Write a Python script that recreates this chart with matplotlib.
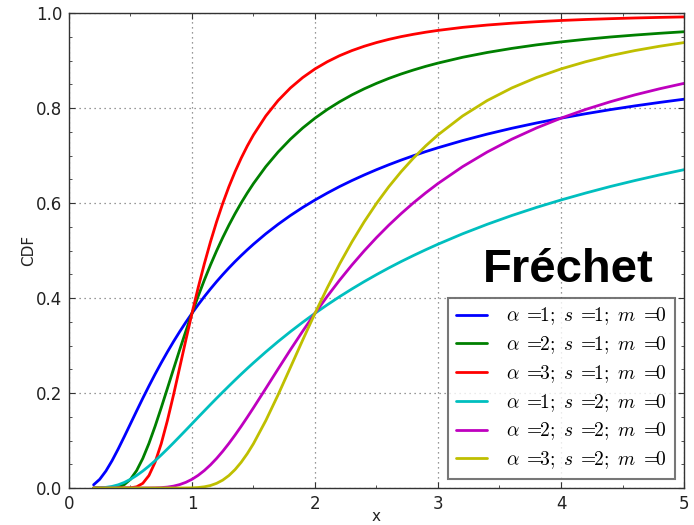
import matplotlib
matplotlib.use("Agg")
import matplotlib.pyplot as plt
from matplotlib.ticker import MultipleLocator

# Sample positions along x
x = [0.20, 0.25, 0.30, 0.35, 0.40, 0.45, 0.50, 0.55, 0.60,
     0.65, 0.70, 0.75, 0.80, 0.85, 0.90, 0.95, 1.00, 1.05,
     1.10, 1.15, 1.20, 1.25, 1.30, 1.35, 1.40, 1.45, 1.50,
     1.6, 1.7, 1.8, 1.9, 2.0,
     2.1, 2.2, 2.3, 2.4, 2.5,
     2.6, 2.7, 2.8, 2.9, 3.0,
     3.2, 3.4, 3.6, 3.8, 4.0,
     4.2, 4.4, 4.6, 4.8, 5.0]

# CDF values for each parameter set
cdf_a1_s1 = [0.0067, 0.0183, 0.0357, 0.0574, 0.0821, 0.1084, 0.1353, 0.1623, 0.1889,
             0.2147, 0.2397, 0.2636, 0.2865, 0.3084, 0.3292, 0.3490, 0.3679, 0.3858,
             0.4029, 0.4191, 0.4346, 0.4493, 0.4634, 0.4768, 0.4895, 0.5017, 0.5134,
             0.5353, 0.5553, 0.5738, 0.5908, 0.6065,
             0.6211, 0.6348, 0.6474, 0.6592, 0.6703,
             0.6807, 0.6905, 0.6997, 0.7084, 0.7165,
             0.7316, 0.7452, 0.7575, 0.7686, 0.7788,
             0.7881, 0.7967, 0.8046, 0.8119, 0.8187]
cdf_a2_s1 = [0.0000, 0.0000, 0.0000, 0.0003, 0.0019, 0.0072, 0.0183, 0.0367, 0.0622,
             0.0938, 0.1299, 0.1690, 0.2096, 0.2506, 0.2910, 0.3302, 0.3679, 0.4037,
             0.4376, 0.4695, 0.4994, 0.5273, 0.5534, 0.5777, 0.6004, 0.6215, 0.6412,
             0.6767, 0.7075, 0.7345, 0.7581, 0.7788,
             0.7971, 0.8133, 0.8278, 0.8406, 0.8521,
             0.8625, 0.8718, 0.8802, 0.8879, 0.8948,
             0.9070, 0.9171, 0.9257, 0.9331, 0.9394,
             0.9449, 0.9497, 0.9538, 0.9575, 0.9608]
cdf_a3_s1 = [0.0000, 0.0000, 0.0000, 0.0000, 0.0000, 0.0000, 0.0003, 0.0025, 0.0098,
             0.0262, 0.0542, 0.0934, 0.1419, 0.1962, 0.2537, 0.3115, 0.3679, 0.4216,
             0.4718, 0.5181, 0.5606, 0.5993, 0.6344, 0.6660, 0.6946, 0.7204, 0.7436,
             0.7834, 0.8159, 0.8424, 0.8643, 0.8825,
             0.8976, 0.9104, 0.9211, 0.9302, 0.9380,
             0.9447, 0.9505, 0.9554, 0.9598, 0.9636,
             0.9700, 0.9749, 0.9788, 0.9819, 0.9845,
             0.9866, 0.9883, 0.9898, 0.9910, 0.9920]
cdf_a1_s2 = [0.0000, 0.0003, 0.0013, 0.0033, 0.0067, 0.0117, 0.0183, 0.0264, 0.0357,
             0.0461, 0.0574, 0.0695, 0.0821, 0.0951, 0.1084, 0.1218, 0.1353, 0.1489,
             0.1623, 0.1757, 0.1889, 0.2019, 0.2147, 0.2273, 0.2397, 0.2518, 0.2636,
             0.2865, 0.3084, 0.3292, 0.3490, 0.3679,
             0.3858, 0.4029, 0.4191, 0.4346, 0.4493,
             0.4634, 0.4768, 0.4895, 0.5017, 0.5134,
             0.5353, 0.5553, 0.5738, 0.5908, 0.6065,
             0.6211, 0.6348, 0.6474, 0.6592, 0.6703]
cdf_a2_s2 = [0.0000, 0.0000, 0.0000, 0.0000, 0.0000, 0.0000, 0.0000, 0.0000, 0.0000,
             0.0001, 0.0003, 0.0008, 0.0019, 0.0039, 0.0072, 0.0119, 0.0183, 0.0266,
             0.0367, 0.0486, 0.0622, 0.0773, 0.0938, 0.1114, 0.1299, 0.1492, 0.1690,
             0.2096, 0.2506, 0.2910, 0.3302, 0.3679,
             0.4037, 0.4376, 0.4695, 0.4994, 0.5273,
             0.5534, 0.5777, 0.6004, 0.6215, 0.6412,
             0.6767, 0.7075, 0.7345, 0.7581, 0.7788,
             0.7971, 0.8133, 0.8278, 0.8406, 0.8521]
cdf_a3_s2 = [0.0000, 0.0000, 0.0000, 0.0000, 0.0000, 0.0000, 0.0000, 0.0000, 0.0000,
             0.0000, 0.0000, 0.0000, 0.0000, 0.0000, 0.0000, 0.0001, 0.0003, 0.0010,
             0.0025, 0.0052, 0.0098, 0.0166, 0.0262, 0.0387, 0.0542, 0.0725, 0.0934,
             0.1419, 0.1962, 0.2537, 0.3115, 0.3679,
             0.4216, 0.4718, 0.5181, 0.5606, 0.5993,
             0.6344, 0.6660, 0.6946, 0.7204, 0.7436,
             0.7834, 0.8159, 0.8424, 0.8643, 0.8825,
             0.8976, 0.9104, 0.9211, 0.9302, 0.9380]

series = [cdf_a1_s1, cdf_a2_s1, cdf_a3_s1, cdf_a1_s2, cdf_a2_s2, cdf_a3_s2]
labels = [r"$\alpha\;=\!\!1;\ s\;=\!\!1;\ m\;=\!\!0$",
          r"$\alpha\;=\!\!2;\ s\;=\!\!1;\ m\;=\!\!0$",
          r"$\alpha\;=\!\!3;\ s\;=\!\!1;\ m\;=\!\!0$",
          r"$\alpha\;=\!\!1;\ s\;=\!\!2;\ m\;=\!\!0$",
          r"$\alpha\;=\!\!2;\ s\;=\!\!2;\ m\;=\!\!0$",
          r"$\alpha\;=\!\!3;\ s\;=\!\!2;\ m\;=\!\!0$"]
colors = ["#0000ff", "#008000", "#ff0000", "#00bfbf", "#bf00bf", "#bfbf00"]

plt.rcParams["mathtext.fontset"] = "cm"

fig = plt.figure(figsize=(6.94, 5.25), dpi=100)
ax = fig.add_axes([0.0994, 0.0705, 0.8862, 0.9045])

for ys, lab, col in zip(series, labels, colors):
    ax.plot(x, ys, color=col, lw=2, label=lab,
            solid_joinstyle="round", solid_capstyle="round")

ax.set_xlim(0, 5)
ax.set_ylim(0, 1.0)
ax.xaxis.set_major_locator(MultipleLocator(1))
ax.xaxis.set_minor_locator(MultipleLocator(0.5))
ax.yaxis.set_major_locator(MultipleLocator(0.2))
ax.yaxis.set_minor_locator(MultipleLocator(0.05))
ax.tick_params(which="both", direction="in", top=True, right=True,
               colors="#333333", labelcolor="#222222")
ax.tick_params(which="major", length=4, width=0.8, labelsize=12, pad=5)
ax.tick_params(which="minor", length=2, width=0.6)
for sp in ax.spines.values():
    sp.set_color("#333333")
    sp.set_linewidth(1.0)

ax.grid(True, which="major", linestyle=(0, (1, 3)), color="#777777", lw=0.9)

ax.set_xlabel("x", fontsize=11, color="#222222", labelpad=-2.5)
ax.set_ylabel("CDF", fontsize=11, color="#222222", labelpad=0)

leg = ax.legend(loc="lower right", bbox_to_anchor=(0.985, 0.019),
                borderaxespad=0, fontsize=14, fancybox=False,
                handlelength=1.6, handletextpad=1.0, labelspacing=0.36,
                borderpad=0.4)
leg.get_frame().set_edgecolor("#555555")
leg.get_frame().set_linewidth(1.5)

ax.text(0.951, 0.434, "Fréchet", transform=ax.transAxes, ha="right",
        va="baseline", fontsize=34, fontweight="bold",
        family="Liberation Sans", color="black")

fig.savefig("out.png", dpi=100)
